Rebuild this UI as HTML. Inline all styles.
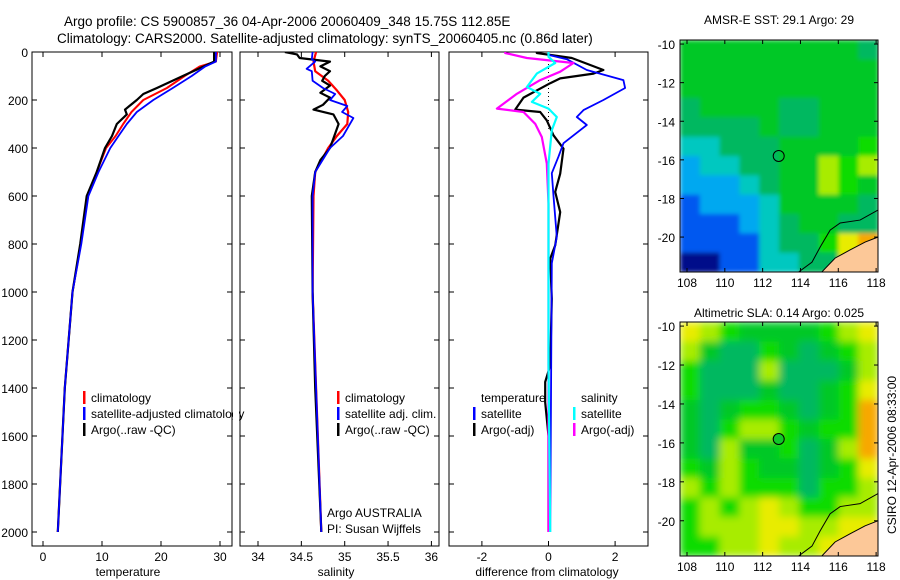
<!DOCTYPE html>
<html><head><meta charset="utf-8"><style>
html,body{margin:0;padding:0;background:#fff;}
svg{display:block;font-family:"Liberation Sans",sans-serif;}
</style></head><body>
<svg id="fig" width="900" height="580" viewBox="0 0 900 580">
<defs><filter id="bl" x="0" y="0" width="100%" height="100%"><feGaussianBlur stdDeviation="4"/></filter>
<filter id="bl2" x="0" y="0" width="100%" height="100%"><feGaussianBlur stdDeviation="2"/></filter>
<clipPath id="c1"><rect x="680" y="40" width="198" height="232"/></clipPath>
<clipPath id="c2"><rect x="680" y="322" width="198" height="234"/></clipPath>
<clipPath id="p1"><rect x="32" y="52" width="200" height="494"/></clipPath>
<clipPath id="p2"><rect x="240" y="52" width="199" height="494"/></clipPath>
<clipPath id="p3"><rect x="449" y="52" width="199" height="494"/></clipPath>
</defs>
<text x="64" y="26" font-size="13.5">Argo profile: CS 5900857_36 04-Apr-2006 20060409_348 15.75S 112.85E</text>
<text x="57" y="43" font-size="13.5">Climatology: CARS2000. Satellite-adjusted climatology: synTS_20060405.nc (0.86d later)</text>
<text x="779" y="24" font-size="12" text-anchor="middle">AMSR-E SST: 29.1 Argo: 29</text>
<text x="779" y="317" font-size="12" text-anchor="middle">Altimetric SLA: 0.14 Argo: 0.025</text>
<text transform="translate(896,455) rotate(-90)" font-size="12" text-anchor="middle">CSIRO 12-Apr-2006 08:33:00</text>
</svg>
<script>
// ---- profile data ----
const tDepth=[0,40,60,100,150,200,250,300,350,400,500,600,800,1000,1400,2000];
const tClim=[29.5,29.3,26.6,24,21,17,15,13.6,12.3,10.7,9.1,7.6,6.4,5.0,3.7,2.5];
const tSat=[29.3,29.3,27.5,25.2,22,18.7,15.9,14.2,12.8,11.4,9.4,7.7,6.5,5.0,3.7,2.5];
const aDepth=[0,40,100,150,175,200,240,260,300,350,400,500,600,800,1000,1400,2000];
const tArgo=[29.0,29.0,23.7,19.3,17,15.9,13.9,14.2,12.5,11.7,10.5,9.1,7.4,6.3,5.0,3.7,2.5];
const sArgoDepth=[0,10,25,40,60,80,100,120,140,170,190,220,240,260,300,400,450,500,600,1000,1400,2000];
const sArgo=[34.31,34.45,34.48,34.83,34.72,34.83,34.77,34.74,34.83,34.72,34.83,34.75,34.64,34.87,34.93,34.83,34.72,34.66,34.62,34.63,34.66,34.73];
const sClimDepth=[0,40,80,120,160,200,250,300,350,400,500,600,1000,2000];
const sClim=[34.67,34.64,34.66,34.81,34.91,35.0,35.04,35.03,34.91,34.81,34.66,34.64,34.63,34.73];
const sSatDepth=[0,30,40,70,80,120,150,175,200,225,250,275,350,400,500,600,1000,2000];
const sSat=[34.63,34.62,34.66,34.56,34.62,34.63,34.75,34.89,34.83,35.03,34.97,35.1,34.98,34.83,34.66,34.63,34.63,34.73];
const dTSatDepth=[0,12,30,75,117,150,200,242,271,304,380,436,505,600,770,880,2000];
const dTSat=[0,0,0.55,1.15,2.25,2.3,1.65,1.05,0.85,1.15,0.45,0.3,0.1,0.15,0.25,0.1,0.05];
const dTArgoDepth=[0,4,25,75,90,110,130,190,240,250,285,347,403,507,583,667,806,861,1028,1306,1375,1460,1600,2000];
const dTArgo=[-0.3,-0.35,0.7,1.65,1.35,0.35,0.05,-0.75,-1.0,-0.25,-0.05,0.15,0.45,0.35,0.2,0.35,0.2,0.05,0.1,0.05,-0.1,-0.1,0,0];
const dSSatDepth=[0,20,46,90,146,174,208,236,271,326,465,604,1300,2000];
const dSSat=[0,0,0.2,-0.35,-0.65,-0.25,-0.5,0,0.25,0.1,0,0,0,0.05];
const dSArgoDepth=[0,4,25,46,82,117,174,236,250,299,354,465,632,2000];
const dSArgo=[-1.3,-1.3,-0.65,0.75,0.35,-0.25,-0.95,-1.55,-0.75,-0.4,-0.2,-0.05,0,0];
const depthTicks=[0,200,400,600,800,1000,1200,1400,1600,1800,2000];
const tTicks=[0,10,20,30];
const sTicks=[34,34.5,35,35.5,36];
const dTicks=[-2,0,2];
// ---- map data (color index grids, rows from north to south) ----
const sstGrid=[
[5,5,5,5,5,5,5,5,5,4],
[5,5,5,5,5,5,5,5,5,5],
[5,5,5,5,5,5,5,5,5,5],
[4,5,5,5,5,4,4,5,5,5],
[4,4,4,4,5,4,4,5,5,5],
[3,3,4,4,4,5,5,5,5,6],
[2,3,3,4,4,5,5,7,6,7],
[2,2,2,3,4,5,5,7,6,5],
[1,2,2,2,3,5,5,5,5,4],
[1,1,1,2,3,4,5,5,4,4],
[1,1,1,1,3,4,4,6,8,9],
[0,0,1,1,3,3,4,4,8,9]];
const slaGrid=[
[8,7,6,5,5,5,5,6,7,8],
[7,5,4,4,6,5,4,5,6,7],
[6,4,4,4,7,4,4,4,5,7],
[6,4,4,4,5,4,4,5,6,8],
[5,4,5,6,6,5,4,5,6,9],
[5,4,6,7,7,6,5,6,6,9],
[5,4,7,5,5,6,4,5,7,9],
[6,5,7,6,5,5,4,5,6,8],
[7,6,7,6,6,6,4,6,6,7],
[6,7,6,7,8,7,6,6,7,7],
[6,7,7,7,8,8,7,7,8,8],
[6,6,7,7,8,7,7,8,8,8]];
const palette=['#00108a','#0058f0','#00a8f0','#00c8c0','#00b860','#00c828','#10dc00','#a8ec00','#e8ec00','#f8a800'];
const coastLon=[113.82,114.61,115.04,115.57,116.1,117.15,118.1];
const coastLat=[-21.87,-21.3,-20.52,-19.64,-19.27,-19.12,-18.6];
const landLon=[115.04,115.83,116.62,117.42,118.1,118.1];
const landLat=[-21.9,-21.09,-20.67,-20.26,-20.0,-21.9];
const latTicks=[-10,-12,-14,-16,-18,-20];
const lonTicks=[108,110,112,114,116,118];
const argoLon=112.85, argoLat=-15.8;

const svg=document.getElementById('fig');
const NS='http://www.w3.org/2000/svg';
function mk(tag,attrs,parent){const e=document.createElementNS(NS,tag);for(const k in attrs)e.setAttribute(k,attrs[k]);(parent||svg).appendChild(e);return e;}
function txt(x,y,s,size,anchor,parent){const e=mk('text',{x:x,y:y,'font-size':size,'text-anchor':anchor||'start'},parent);e.textContent=s;return e;}
const yD=p=>52+0.24*p;

const panels=[
 {x0:32,x1:232,fx:v=>43+5.9*v,ticks:tTicks,lab:'temperature',labx:128,clip:'p1',name:'temperature-panel'},
 {x0:240,x1:439,fx:v=>258+86.7*(v-34),ticks:sTicks,lab:'salinity',labx:336,clip:'p2',name:'salinity-panel'},
 {x0:449,x1:648,fx:v=>548.5+33.3*v,ticks:dTicks,lab:'difference from climatology',labx:547,clip:'p3',name:'difference-panel'}];
panels.forEach((P,i)=>{
 const g=mk('g',{});
 
 
 const r=mk('rect',{x:P.x0,y:52,width:P.x1-P.x0,height:494,fill:'none',stroke:'#000','stroke-width':1},g);
 
 
 depthTicks.forEach(d=>{const y=yD(d);mk('line',{x1:P.x0,x2:P.x0+5,y1:y,y2:y,stroke:'#000'},g);mk('line',{x1:P.x1-5,x2:P.x1,y1:y,y2:y,stroke:'#000'},g);});
 P.ticks.forEach(t=>{const x=P.fx(t);mk('line',{x1:x,x2:x,y1:52,y2:57,stroke:'#000'},g);mk('line',{x1:x,x2:x,y1:541,y2:546,stroke:'#000'},g);
  const tl=txt(x,561,String(t),12,'middle',g);
  
  });
 const al=txt(P.labx,576,P.lab,12,'middle',g);
 
 
});
depthTicks.forEach(d=>{const t=txt(28,yD(d)+5,String(d),12,'end');
 
 });

function line(depths,vals,fx,color,w,clip,name){
 const pts=depths.map((d,i)=>fx(vals[i]).toFixed(1)+','+yD(d).toFixed(1)).join(' ');
 const e=mk('polyline',{points:pts,fill:'none',stroke:color,'stroke-width':w,'stroke-linejoin':'round','clip-path':'url(#'+clip+')'});
 
 
}
const P=panels;
line(tDepth,tClim,P[0].fx,'#f00',2,'p1','temp-climatology-line');
line(aDepth,tArgo,P[0].fx,'#000',2.2,'p1','temp-argo-line');
line(tDepth,tSat,P[0].fx,'#00f',1.8,'p1','temp-satellite-line');
line(sClimDepth,sClim,P[1].fx,'#f00',2.2,'p2','sal-climatology-line');
line(sArgoDepth,sArgo,P[1].fx,'#000',2.2,'p2','sal-argo-line');
line(sSatDepth,sSat,P[1].fx,'#00f',1.8,'p2','sal-satellite-line');
const z=mk('line',{x1:P[2].fx(0),x2:P[2].fx(0),y1:52,y2:yD(320),stroke:'#000','stroke-dasharray':'1,3'});


line(dTArgoDepth,dTArgo,P[2].fx,'#000',2.2,'p3','dtemp-argo-line');
line(dTSatDepth,dTSat,P[2].fx,'#00f',1.8,'p3','dtemp-satellite-line');
line(dSArgoDepth,dSArgo,P[2].fx,'#f0f',2.2,'p3','dsal-argo-line');
line(dSSatDepth,dSSat,P[2].fx,'#0ff',2.2,'p3','dsal-satellite-line');

function legend(x,y,color,label,name){
 const g=mk('g',{});
 
 
 if(color)mk('rect',{x:x,y:y-11,width:2.5,height:13,fill:color},g);
 txt(x+8,y,label,12,'start',g);
}
legend(83,402,'#f00','climatology','legend-entry-climatology');
legend(83,418,'#00f','satellite-adjusted climatology','legend-entry-satellite');
legend(83,434,'#000','Argo(..raw -QC)','legend-entry-argo');
legend(337,402,'#f00','climatology','legend-entry-climatology');
legend(337,418,'#00f','satellite adj. clim.','legend-entry-satellite');
legend(337,434,'#000','Argo(..raw -QC)','legend-entry-argo');
legend(473,402,null,'temperature','legend-header-temperature');
legend(473,418,'#00f','satellite','legend-entry-temp-satellite');
legend(473,434,'#000','Argo(-adj)','legend-entry-temp-argo');
legend(573,402,null,'salinity','legend-header-salinity');
legend(573,418,'#0ff','satellite','legend-entry-sal-satellite');
legend(573,434,'#f0f','Argo(-adj)','legend-entry-sal-argo');
mk('rect',{x:233,y:380,width:6,height:60,fill:'#fff'});
const a1=txt(327,517,'Argo AUSTRALIA',12);


const a2=txt(327,533,'PI: Susan Wijffels',12);



function map(top,bottom,grid,clip,filt,name,markerFill){
 const L=680,R=878,lon0=107.63,lon1=118.1,latTop=-9.79,latBot=-21.81;
 const fx=lon=>L+(lon-lon0)/(lon1-lon0)*(R-L);
 const fy=lat=>top+(latTop-lat)/(latTop-latBot)*(bottom-top);
 const g=mk('g',{'clip-path':'url(#'+clip+')'});
 
 
 const cg=mk('g',{filter:'url(#'+filt+')'},g);
 const cols=grid[0].length,rows=grid.length,cw=(R-L)/cols,ch=(bottom-top)/rows;
 mk('rect',{x:L,y:top,width:R-L,height:bottom-top,fill:palette[5]},cg);
 grid.forEach((row,r)=>row.forEach((v,c)=>{
  const cell=mk('rect',{x:(L+c*cw).toFixed(1),y:(top+r*ch).toFixed(1),width:(cw+0.6).toFixed(1),height:(ch+0.6).toFixed(1),fill:palette[v]},cg);
  
  
 }));
 const land=mk('polygon',{points:landLon.map((lo,i)=>fx(lo)+','+fy(landLat[i])).join(' '),fill:'#fcc898',stroke:'#000','stroke-width':1},g);
 
 
 const coast=mk('polyline',{points:coastLon.map((lo,i)=>fx(lo)+','+fy(coastLat[i])).join(' '),fill:'none',stroke:'#000','stroke-width':1},g);
 
 
 const m=mk('circle',{cx:fx(argoLon),cy:fy(argoLat),r:5.5,fill:markerFill,stroke:'#000','stroke-width':1},g);
 
 
 mk('rect',{x:L,y:top,width:R-L,height:bottom-top,fill:'none',stroke:'#000'});
 latTicks.forEach(l=>{const y=fy(l);mk('line',{x1:L,x2:L+4,y1:y,y2:y,stroke:'#000'});mk('line',{x1:R-4,x2:R,y1:y,y2:y,stroke:'#000'});
  const t=txt(L-5,y+5,String(l),12,'end');
  
  });
 lonTicks.forEach(l=>{const x=fx(l);mk('line',{x1:x,x2:x,y1:top,y2:top+4,stroke:'#000'});mk('line',{x1:x,x2:x,y1:bottom-4,y2:bottom,stroke:'#000'});
  const t=txt(x,bottom+15,String(l),12,'middle');
  
  });
}
map(40,272,sstGrid,'c1','bl2','sst-map','none');
map(322,556,slaGrid,'c2','bl','sla-map','#10c828');
</script>
</body></html>
